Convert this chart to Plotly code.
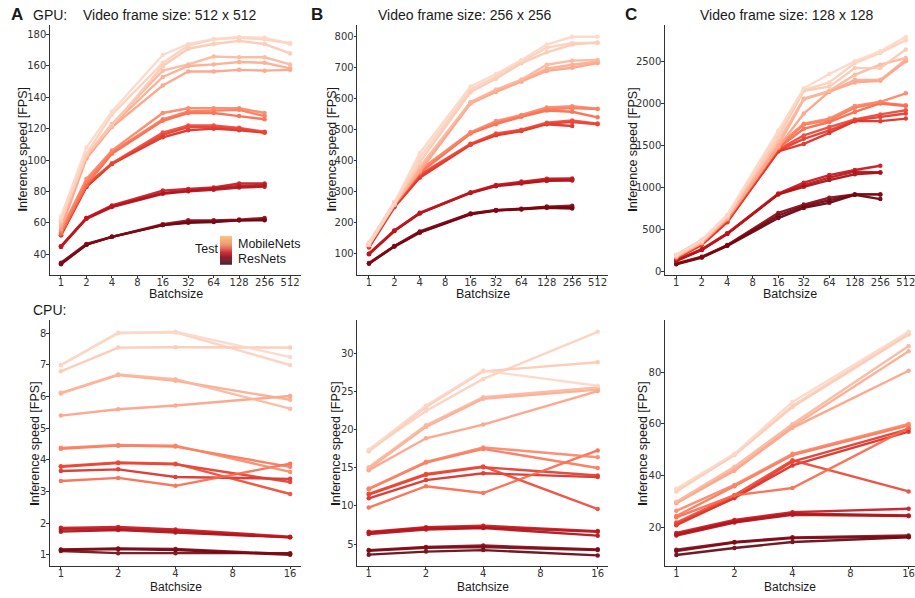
import plotly.graph_objects as go
from plotly.colors import sample_colorscale

# ---------------- data ----------------
batch_gpu = [1, 2, 4, 16, 32, 64, 128, 256, 512]
batch_cpu = [1, 2, 4, 16]
x_ticks_gpu = [1, 2, 4, 8, 16, 32, 64, 128, 256, 512]
x_ticks_cpu = [1, 2, 4, 8, 16]

gpu_512 = [
    [64, 108, 131, 167, 174, 177, 178.5, 178, 174],
    [62, 104, 129, 162, 173, 177, 178, 177, 174.5],
    [61, 103, 122, 160, 171, 174, 176, 174, 168],
    [60, 103, 123, 157, 161, 166, 165.5, 165.5, 161],
    [58, 102, 122, 153, 160, 161, 162.5, 162, 158.5],
    [56, 101, 121, 147.5, 156.5, 156.5, 157.5, 157, 157.5],
    [55, 88, 106, 130, 133, 133, 133, 130],
    [54, 86, 105, 126, 131, 131.5, 132, 128],
    [53, 84, 104, 125, 130, 130, 128, 126],
    [53, 84, 98, 117.5, 122, 122, 120.5, 118],
    [52, 83, 97.5, 116, 121, 121, 120, 117.5],
    [52, 83, 97.5, 114.5, 119, 120, 119, 117.5],
    [45, 63, 71, 80.5, 81.5, 82.5, 85, 85],
    [45, 63, 70.5, 79, 80.5, 82, 83.5, 84],
    [44.5, 62.5, 70, 78.5, 80, 81, 82.5, 83],
    [34.5, 46.5, 51, 59, 61.5, 61.5, 62, 63],
    [34, 46, 51, 58.5, 60.5, 61, 61.5, 62],
    [33.5, 46, 51, 58.5, 60, 60.5, 61.5, 61.5],
]

gpu_256 = [
    [137, 265, 425, 640, 680, 725, 775, 800, 800],
    [130, 262, 410, 630, 672, 720, 765, 780, 780],
    [128, 258, 395, 622, 665, 715, 750, 775, 782],
    [132, 262, 380, 590, 630, 662, 710, 723, 725],
    [130, 260, 370, 588, 627, 658, 697, 710, 720],
    [128, 258, 365, 585, 622, 655, 690, 700, 715],
    [135, 265, 370, 492, 528, 548, 572, 576, 568],
    [132, 262, 365, 490, 522, 545, 566, 570, 567],
    [130, 260, 360, 488, 518, 542, 562, 558, 540],
    [125, 255, 355, 455, 488, 500, 523, 530, 520],
    [122, 252, 350, 453, 484, 498, 520, 525, 518],
    [120, 250, 345, 452, 482, 496, 518, 512],
    [100, 175, 232, 298, 322, 333, 342, 343],
    [100, 174, 231, 297, 320, 330, 338, 340],
    [98, 173, 230, 296, 318, 327, 335, 336],
    [70, 125, 172, 230, 241, 245, 252, 255],
    [69, 124, 170, 229, 240, 244, 250, 250],
    [68, 123, 168, 227, 239, 243, 248, 246],
]

gpu_128 = [
    [200, 380, 680, 1680, 2180, 2350, 2500, 2620, 2790],
    [195, 370, 670, 1650, 2160, 2250, 2480, 2600, 2750],
    [190, 360, 660, 1600, 2150, 2200, 2420, 2420, 2640],
    [185, 360, 650, 1550, 2060, 2150, 2340, 2460, 2540],
    [180, 350, 640, 1500, 2050, 2140, 2280, 2280, 2520],
    [175, 340, 630, 1480, 1880, 2140, 2250, 2270, 2500],
    [200, 380, 640, 1500, 1760, 1820, 1970, 2020, 2120],
    [190, 370, 630, 1480, 1750, 1800, 1950, 2010, 1980],
    [185, 360, 620, 1470, 1700, 1780, 1900, 2000, 1970],
    [170, 340, 610, 1450, 1620, 1720, 1810, 1870, 1920],
    [165, 330, 600, 1440, 1580, 1680, 1800, 1840, 1880],
    [160, 320, 590, 1430, 1520, 1650, 1790, 1790, 1820],
    [140, 270, 460, 930, 1060, 1150, 1210, 1260],
    [135, 265, 455, 925, 1030, 1120, 1190, 1180],
    [130, 260, 450, 920, 1010, 1090, 1160, 1180],
    [100, 180, 320, 700, 800, 880, 920, 920],
    [95, 175, 315, 670, 780, 850, 920, 920],
    [90, 170, 310, 640, 760, 820, 915, 865],
]

cpu_512 = [
    [7.0, 8.0, 8.05, 7.25],
    [7.0, 8.02, 8.03, 7.0],
    [6.8, 7.55, 7.56, 7.55],
    [6.12, 6.7, 6.55, 5.62],
    [6.1, 6.68, 6.5, 5.9],
    [5.4, 5.6, 5.72, 6.02],
    [4.38, 4.47, 4.45, 3.62],
    [4.35, 4.45, 4.42, 3.78],
    [3.33, 3.43, 3.18, 3.88],
    [3.8, 3.92, 3.88, 2.92],
    [3.78, 3.9, 3.86, 3.3],
    [3.65, 3.7, 3.46, 3.4],
    [1.85, 1.88, 1.8, 1.57],
    [1.8, 1.82, 1.75, 1.55],
    [1.73, 1.78, 1.7, 1.55],
    [1.17, 1.2, 1.18, 1.02],
    [1.12, 1.05, 1.05, 1.05],
    [1.15, 1.18, 1.15, 1.0],
]

cpu_256 = [
    [17.4, 23.2, 27.8, 25.8],
    [17.3, 22.5, 26.7, 32.9],
    [17.2, 23.0, 27.7, 28.9],
    [15.1, 20.6, 24.3, 25.6],
    [14.9, 20.4, 24.1, 25.3],
    [14.7, 18.9, 20.7, 25.1],
    [12.3, 15.8, 17.7, 16.4],
    [12.2, 15.7, 17.5, 15.0],
    [9.8, 12.6, 11.7, 17.3],
    [11.6, 14.2, 15.2, 9.6],
    [11.5, 14.1, 15.1, 14.0],
    [11.0, 13.4, 14.3, 13.8],
    [6.6, 7.2, 7.4, 6.7],
    [6.5, 7.1, 7.2, 6.6],
    [6.3, 6.9, 7.1, 6.1],
    [4.2, 4.6, 4.8, 4.3],
    [4.1, 4.5, 4.6, 4.2],
    [3.6, 4.0, 4.2, 3.5],
]

cpu_128 = [
    [35, 48.5, 68.5, 95.5],
    [34.5, 48, 67, 95],
    [34, 48, 66.5, 94.5],
    [30, 43.5, 60, 90],
    [29.5, 42.5, 59, 88],
    [29.5, 42, 58.5, 80.5],
    [26.5, 36.5, 48.5, 60],
    [24.5, 36, 48, 59.5],
    [24, 32.5, 35.3, 58.5],
    [22, 32.5, 46, 34],
    [21.5, 31.5, 45.5, 58],
    [21, 31.5, 44, 57],
    [18, 23, 26, 27.3],
    [17.5, 22.5, 25.5, 24.7],
    [17, 22, 25, 24.5],
    [11.5, 14.5, 16.3, 17],
    [11, 14.3, 16, 16.5],
    [9.5, 12.2, 14.5, 16.3],
]

panel_titles = ["Video frame size: 512 x 512", "Video frame size: 256 x 256", "Video frame size: 128 x 128"]
panel_letters = ["A", "B", "C"]
legend_labels = ["MobileNets", "ResNets"]

# ---------------- style ----------------
line_colors = [
    "#fdd8c7", "#fdd0bc", "#fcc8b2",
    "#fcb69c", "#fcaa8e", "#fca084",
    "#fb8464", "#fa7556", "#f8694c",
    "#ee4633", "#e4382b", "#da2c25",
    "#c2161c", "#b51219", "#a60f16",
    "#820914", "#720511", "#60020d",
]

W, H = 915, 598
TICK_FONT = dict(family="DejaVu Sans", size=10, color="#333333")
AX_COL = "#333333"

panels = [
    (gpu_512, batch_gpu, x_ticks_gpu, (50, 301), (25, 276), (-0.432, 9.43), (26.9, 186.2), [40, 60, 80, 100, 120, 140, 160, 180]),
    (gpu_256, batch_gpu, x_ticks_gpu, (357.3, 608), (25, 276), (-0.46, 9.41), (32.6, 838.5), [100, 200, 300, 400, 500, 600, 700, 800]),
    (gpu_128, batch_gpu, x_ticks_gpu, (665, 915), (25, 276), (-0.443, 9.36), (-32, 2933), [0, 500, 1000, 1500, 2000, 2500]),
    (cpu_512, batch_cpu, x_ticks_cpu, (50, 301), (322, 569), (-0.19, 4.19), (0.64, 8.41), [1, 2, 3, 4, 5, 6, 7, 8]),
    (cpu_256, batch_cpu, x_ticks_cpu, (357.3, 608), (322, 569), (-0.2, 4.18), (2.09, 34.4), [5, 10, 15, 20, 25, 30]),
    (cpu_128, batch_cpu, x_ticks_cpu, (665, 915), (322, 569), (-0.195, 4.11), (5.2, 99.9), [20, 40, 60, 80]),
]

LOG2 = 0.30103

fig = go.Figure()
layout = dict(
    width=W, height=H,
    margin=dict(l=0, r=0, t=0, b=0),
    paper_bgcolor="white", plot_bgcolor="white",
    showlegend=False,
)

for i, (data, xv, xt, xd, yd, xr, yr, yt) in enumerate(panels):
    n = i + 1
    xa = "x" if n == 1 else f"x{n}"
    ya = "y" if n == 1 else f"y{n}"
    for k in list(range(len(data)))[::-1]:
        vals = data[k]
        fig.add_trace(go.Scatter(
            x=xv[:len(vals)], y=vals, xaxis=xa, yaxis=ya,
            mode="lines+markers",
            line=dict(color=line_colors[k], width=2.4),
            marker=dict(color=line_colors[k], size=4.5),
            opacity=0.9, hoverinfo="skip",
        ))
    xkey = "xaxis" if n == 1 else f"xaxis{n}"
    ykey = "yaxis" if n == 1 else f"yaxis{n}"
    layout[xkey] = dict(
        domain=[xd[0] / W, min(xd[1] / W, 1.0)],
        anchor=ya, type="log",
        range=[xr[0] * LOG2, xr[1] * LOG2],
        tickvals=xt, ticktext=[str(t) for t in xt],
        showgrid=False, zeroline=False,
        showline=True, linecolor=AX_COL, linewidth=1.3,
        ticks="outside", ticklen=2, tickcolor=AX_COL, tickwidth=1,
        ticklabelstandoff=-4, ticklabeloverflow="allow",
        tickfont=TICK_FONT,
    )
    layout[ykey] = dict(
        domain=[1 - yd[1] / H, 1 - yd[0] / H],
        anchor=xa,
        range=list(yr),
        tickvals=yt,
        showgrid=False, zeroline=False,
        showline=True, linecolor=AX_COL, linewidth=1.3,
        ticks="outside", ticklen=2.5, tickcolor=AX_COL, tickwidth=1,
        ticklabelstandoff=-2, ticklabeloverflow="allow",
        tickfont=TICK_FONT,
    )

fig.update_layout(**layout)

ann = []
TFONT = "Liberation Sans, Arial, sans-serif"

def px_ann(x, y, text, size, xanchor="center", yanchor="middle", color="#1a1a1a", family=TFONT, angle=0, pad=1):
    ann.append(dict(
        x=x / W, y=1 - y / H, xref="paper", yref="paper",
        text=text, showarrow=False, xanchor=xanchor, yanchor=yanchor,
        font=dict(family=family, size=size, color=color), textangle=angle,
        borderpad=pad,
    ))

px_ann(9, 15, "<b>A</b>", 17, xanchor="left")
px_ann(309, 15, "<b>B</b>", 17, xanchor="left")
px_ann(623, 15, "<b>C</b>", 17, xanchor="left")
px_ann(31, 15, "GPU:", 14, xanchor="left")
px_ann(31, 312, "CPU:", 14, xanchor="left")
px_ann(169.6, 15, panel_titles[0], 14)
px_ann(465, 15, panel_titles[1], 14)
px_ann(787, 15, panel_titles[2], 14)

for cx in (175.5, 482.6, 790):
    px_ann(cx, 295, "Batchsize", 12.5)
    px_ann(cx, 598, "Batchsize", 12, yanchor="bottom", pad=0)
ytitle = "<b>I</b>nference speed [FPS]"
for (cx, cy) in [(22.7, 150.5), (331.7, 150.5), (633, 150.5), (35, 446), (336, 446), (643, 446)]:
    px_ann(cx, cy, ytitle, 12.5, angle=-90)

px_ann(192.7, 250, "Test", 12.5, xanchor="left")
px_ann(236, 245, legend_labels[0], 12.5, xanchor="left")
px_ann(236, 260.5, legend_labels[1], 12.5, xanchor="left")

fig.update_layout(annotations=ann)

cbar_scale = [[0.0, "#f9c688"], [0.3, "#ec8a5d"], [0.55, "#d2363a"], [0.8, "#8a1a2c"], [1.0, "#2c0a1a"]]
x0, x1, ytop, ybot = 220, 232, 237, 265.7
nseg = 30
seg_cols = sample_colorscale(cbar_scale, [j / (nseg - 1) for j in range(nseg)])
shapes = []
for j in range(nseg):
    ya0 = ytop + (ybot - ytop) * j / nseg
    ya1 = ytop + (ybot - ytop) * (j + 1) / nseg
    shapes.append(dict(
        type="rect", xref="paper", yref="paper",
        x0=x0 / W, x1=x1 / W, y0=1 - ya1 / H - 0.0005, y1=1 - ya0 / H,
        fillcolor=seg_cols[j], line=dict(width=0), layer="above",
    ))
fig.update_layout(shapes=shapes)

fig.write_html("out.html")
